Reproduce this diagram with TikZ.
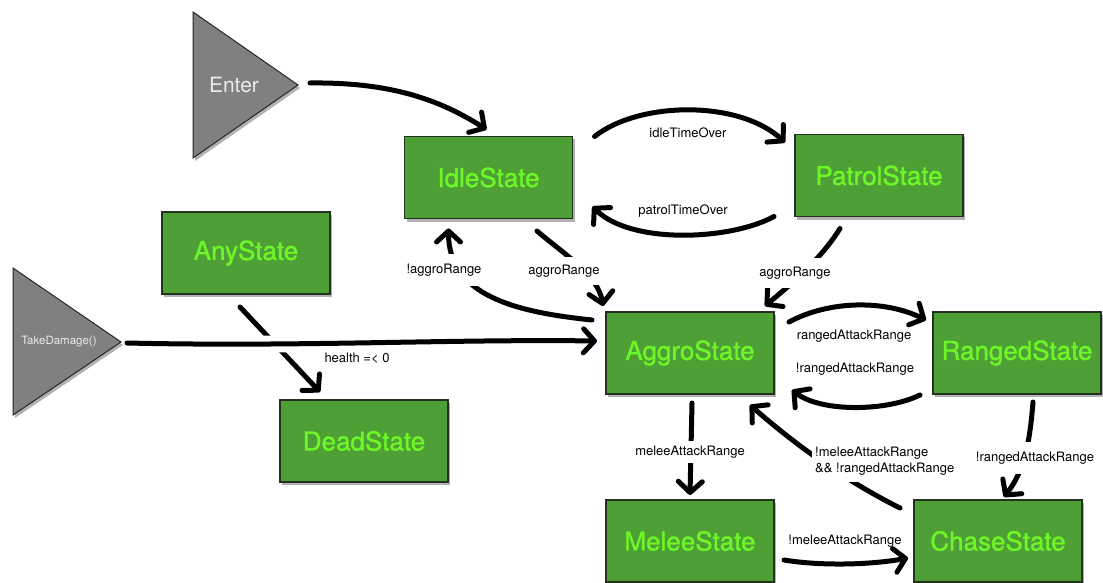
\documentclass[tikz,border=0pt]{standalone}
\usepackage{fontspec}
\setmainfont{TeX Gyre Heros}
\newfontfamily\statefont[FakeBold=1.2]{TeX Gyre Heros}
\usetikzlibrary{arrows.meta,shadows,calc}
\definecolor{statefill}{RGB}{78,160,54}
\definecolor{statetext}{RGB}{110,246,40}
\definecolor{stateline}{RGB}{35,50,30}
\definecolor{startfill}{RGB}{128,128,128}
\begin{document}
\begin{tikzpicture}[x=1pt,y=-1pt,
  shade/.style={drop shadow={shadow xshift=2pt,shadow yshift=-3pt,opacity=0.3,fill=black}},
  state/.style={draw=stateline,line width=1.2pt,fill=statefill,shade,
    minimum width=168pt,minimum height=82pt,inner sep=0pt,outer sep=0pt,
    text=statetext,font=\statefont\fontsize{26}{30}\selectfont},
  entry/.style={draw=black!85,line width=1pt,fill=startfill,shade},
  trans/.style={line width=5pt,line cap=round,
    -{Straight Barb[length=11pt,width=24pt,round]}},
  cond/.style={inner sep=2pt,font=\fontsize{13}{15.5}\selectfont},
  gap/.style={cond,fill=white,inner xsep=3pt,inner ysep=#1},
  gap/.default=8pt
]
\useasboundingbox (0,0) rectangle (1103,583);
\fill[white] (0,0) rectangle (1103,583);

% entry triangles
\path[entry] (193,12) -- (298,85) -- (193,158) -- cycle;
\coordinate (entertip) at (298,85);
\node[text=white!92!black,font=\fontsize{21}{25}\selectfont] (entertext) at (234,85) {Enter};

\path[entry] (13,268) -- (121,342) -- (13,415) -- cycle;
\coordinate (damagetip) at (121,342);
\node[text=white!92!black,font=\fontsize{11.5}{14}\selectfont] (damagetext) at (59,342) {TakeDamage()};

% states
\node[state] (idle)   at (488.5,177.5) {IdleState};
\node[state] (patrol) at (879,175.5)   {PatrolState};
\node[state] (any)    at (246,253)     {AnyState};
\node[state] (aggro)  at (690,353)     {AggroState};
\node[state] (ranged) at (1017,353)    {RangedState};
\node[state] (dead)   at (364,441)     {DeadState};
\node[state] (melee)  at (690,541)     {MeleeState};
\node[state] (chase)  at (998,541)     {ChaseState};

% transitions
\draw[trans] ($(entertip)+(12,-2)$) .. controls +(80,-1) and +(-47,-30) .. ($(idle.north)+(-2,-7)$);
\draw[trans] ($(idle.north east)+(22,0)$) .. controls +(46,-36) and +(-45,-42) .. ($(patrol.north west)+(-10,8)$);
\draw[trans] ($(patrol.south west)+(-21,0)$) .. controls +(-44,24) and +(38,38) .. ($(idle.south east)+(20,-12)$);
\draw[trans] ($(aggro.north west)+(-14,8)$) .. controls +(-77,-8) and +(0,67) .. ($(idle.south)+(-40,10)$);
\draw[trans] ($(idle.south)+(48.5,12.5)$) .. controls +(28,24) and +(-5,-31) .. ($(aggro.north west)+(-3,-6)$);
\draw[trans] ($(patrol.south)+(-39,12)$) .. controls +(-20,32) and +(25,-21) .. ($(aggro.north east)+(-9,-6)$);
\draw[trans] ($(aggro.north east)+(15,10)$) .. controls +(41,-22) and +(-41,-20) .. ($(ranged.north west)+(-7,8)$);
\draw[trans] ($(ranged.south west)+(-13,1)$) .. controls +(-35,17) and +(28,22) .. ($(aggro.south east)+(18,-4)$);
\draw[trans] ($(aggro.south)+(2,9)$) -- ($(melee.north)+(0,-5)$);
\draw[trans] ($(melee.east)+(10,19)$) .. controls +(36,6) and +(-38,7) .. ($(chase.west)+(-6,17)$);
\draw[trans] ($(chase.north west)+(-14,8)$) .. controls +(-60,-30) and +(40,35) .. ($(aggro.south east)+(-24,11)$);
\draw[trans] ($(ranged.south)+(16,8)$) .. controls +(-3,38) and +(21,-27) .. ($(chase.north)+(6,-3)$);
\draw[trans] ($(any.south)+(-6,13)$) -- ($(dead.north west)+(40,-8)$);
\draw[trans,preaction={draw=white,line width=17pt,-}]
  ($(damagetip)+(6,1)$) .. controls +(173,4) and +(-147,-2) .. ($(aggro.west)+(-9,-12)$);

% conditions
\node[cond] (l1) at (688,133) {idleTimeOver};
\node[cond] (l2) at (683,211) {patrolTimeOver};
\node[gap=10pt] (l3) at (444,270) {!aggroRange};
\node[gap=8pt] (l4) at (564,271) {aggroRange};
\node[gap=9pt] (l5) at (795,273) {aggroRange};
\node[cond] (l6) at (854,336) {rangedAttackRange};
\node[cond] (l7) at (855,369) {!rangedAttackRange};
\node[gap=5pt] (l8) at (690,452) {meleeAttackRange};
\node[cond] (l9) at (845,541) {!meleeAttackRange};
\node[gap=7pt,align=left,anchor=west] (l10) at (812,461) {!meleeAttackRange\\\&\& !rangedAttackRange};
\node[gap=10pt] (l11) at (1035,458) {!rangedAttackRange};
\node[cond] (l12) at (357,358) {health =< 0};
\end{tikzpicture}
\end{document}
